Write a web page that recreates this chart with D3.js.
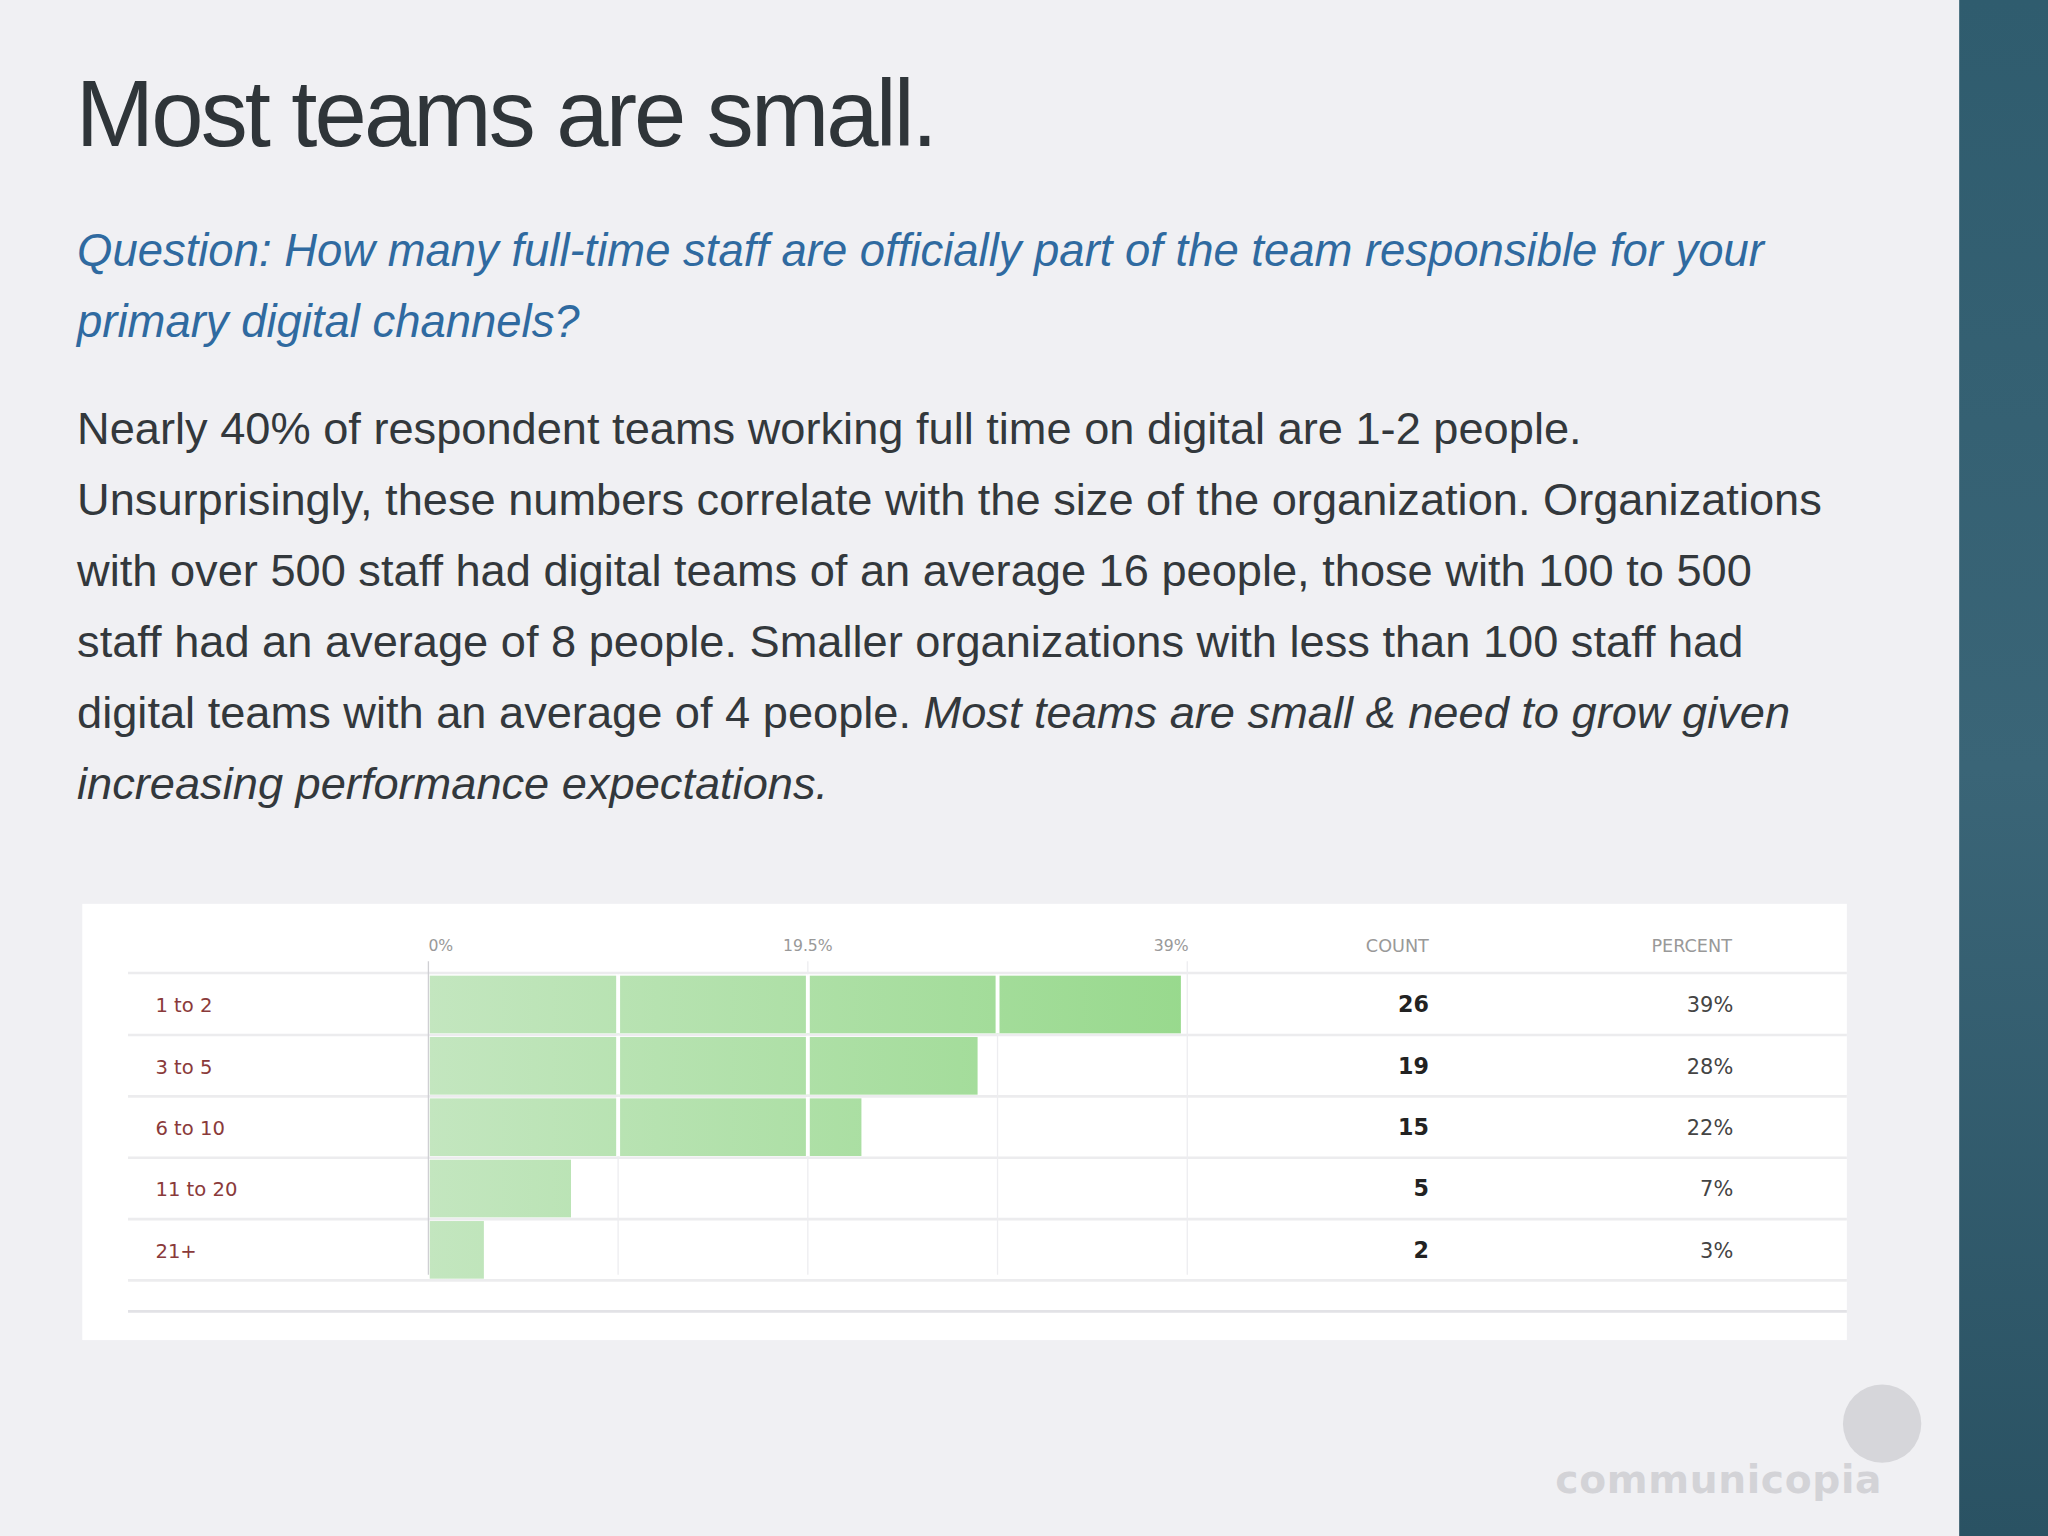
<!DOCTYPE html>
<html><head><meta charset="utf-8">
<script src="https://cdn.jsdelivr.net/npm/d3@7"></script>
<style>body{margin:0;background:#f0f0f3}svg{display:block}</style>
</head><body>
<svg id="c" width="2048" height="1536" viewBox="0 0 1568 1176"></svg>
<script>
const categories = ['1 to 2', '3 to 5', '6 to 10', '11 to 20', '21+']
const counts = [26, 19, 15, 5, 2]
const percents = ['39%', '28%', '22%', '7%', '3%']
const tickValues = [0, 19.5, 39]
const tickLabels = ['0%', '19.5%', '39%']
const total = d3.sum(counts)

const svg = d3.select('#c')
svg.append('rect').attr('width', 1568).attr('height', 1176).attr('fill', '#f0f0f3')

// sidebar
const grad = svg.append('defs').append('linearGradient').attr('id', 'side').attr('x1', 0).attr('x2', 0).attr('y1', 0).attr('y2', 1)
grad.append('stop').attr('offset', 0).attr('stop-color', '#2f5c6e')
grad.append('stop').attr('offset', 0.5).attr('stop-color', '#3a6577')
grad.append('stop').attr('offset', 1).attr('stop-color', '#2a5263')
svg.append('rect').attr('x', 1500).attr('width', 68).attr('height', 1176).attr('fill', 'url(#side)')

svg.append('text').attr('x', 58).attr('y', 112).attr('font-family', 'Liberation Sans, Arial').attr('font-size', 72)
    .attr('letter-spacing', -2.2).attr('fill', '#2f3539').text('Most teams are small.')

const q = svg.append('text').attr('font-family', 'Liberation Sans, Arial').attr('font-size', 34.8).attr('font-style', 'italic').attr('fill', '#2f6aa0')
q.append('tspan').attr('x', 59).attr('y', 204).text('Question: How many full-time staff are officially part of the team responsible for your')
q.append('tspan').attr('x', 59).attr('y', 258).text('primary digital channels?')

const body = [
    ['Nearly 40% of respondent teams working full time on digital are 1-2 people.'],
    ['Unsurprisingly, these numbers correlate with the size of the organization. Organizations'],
    ['with over 500 staff had digital teams of an average 16 people, those with 100 to 500'],
    ['staff had an average of 8 people. Smaller organizations with less than 100 staff had'],
    ['digital teams with an average of 4 people. ', 'Most teams are small & need to grow given'],
    [null, 'increasing performance expectations.']
]
const bt = svg.append('text').attr('font-family', 'Liberation Sans, Arial').attr('font-size', 34.6).attr('fill', '#33383c')
body.forEach((l, i) => {
    const yy = 340 + i * 54.4
    if (l[0] !== null) {
        bt.append('tspan').attr('x', 59).attr('y', yy).text(l[0])
        if (l[1]) bt.append('tspan').attr('font-style', 'italic').text(l[1])
    } else {
        bt.append('tspan').attr('x', 59).attr('y', yy).attr('font-style', 'italic').text(l[1])
    }
})

// chart panel
svg.append('rect').attr('x', 63).attr('y', 692).attr('width', 1351).attr('height', 334).attr('fill', '#fff')

const x = d3.scaleLinear().domain([0, 39]).range([328, 909])
const y = d3.scaleBand().domain(categories).range([746, 978]).paddingInner(0.06).paddingOuter(0)
const font = 'DejaVu Sans, Verdana'

// row separators
categories.forEach(c => {
    svg.append('line').attr('x1', 98).attr('x2', 1414).attr('y1', y(c) + y.step() - 0.5).attr('y2', y(c) + y.step() - 0.5)
        .attr('stroke', '#ececee').attr('stroke-width', 2)
})
svg.append('line').attr('x1', 98).attr('x2', 1414).attr('y1', 745).attr('y2', 745).attr('stroke', '#ececee').attr('stroke-width', 2)
svg.append('line').attr('x1', 98).attr('x2', 1414).attr('y1', 1004).attr('y2', 1004).attr('stroke', '#e2e2e6').attr('stroke-width', 2)

// grid
const gridVals = d3.range(0, 39.01, 9.75)
svg.append('g').selectAll('line').data(gridVals).join('line')
    .attr('x1', d => x(d)).attr('x2', d => x(d)).attr('y1', d => tickValues.includes(d) ? 736 : 746).attr('y2', 976)
    .attr('stroke', (d, i) => i === 0 ? '#cfcfd3' : '#ededf0').attr('stroke-width', 1)

const bg = svg.append('defs').append('linearGradient').attr('id', 'bar').attr('gradientUnits', 'userSpaceOnUse')
    .attr('x1', x(0)).attr('x2', x(39)).attr('y1', 0).attr('y2', 0)
bg.append('stop').attr('offset', 0).attr('stop-color', '#c3e6bf')
bg.append('stop').attr('offset', 1).attr('stop-color', '#98d98d')

svg.append('g').selectAll('rect').data(categories).join('rect')
    .attr('x', x(0) + 1).attr('y', c => y(c) + 1).attr('height', y.bandwidth())
    .attr('width', (c, i) => x(counts[i] / total * 100) - x(0) - 3).attr('fill', 'url(#bar)')

// white separators inside bars
categories.forEach((c, i) => {
    const v = counts[i] / total * 100
    gridVals.filter(g => g > 0 && g < v).forEach(g => {
        svg.append('line').attr('x1', x(g)).attr('x2', x(g)).attr('y1', y(c)).attr('y2', y(c) + y.bandwidth() + 1)
            .attr('stroke', '#fff').attr('stroke-width', 3)
    })
})

// axis labels
svg.append('g').selectAll('text').data(tickValues).join('text')
    .attr('x', d => x(d) + (d === 39 ? 1 : 0)).attr('y', 728).attr('text-anchor', (d, i) => ['start', 'middle', 'end'][i])
    .attr('font-family', font).attr('font-size', 12).attr('fill', '#999').text((d, i) => tickLabels[i])
svg.append('text').attr('x', 1094).attr('y', 729).attr('text-anchor', 'end').attr('font-family', font).attr('font-size', 13.5).attr('fill', '#999').text('COUNT')
svg.append('text').attr('x', 1326).attr('y', 729).attr('text-anchor', 'end').attr('font-family', font).attr('font-size', 13.5).attr('fill', '#999').text('PERCENT')

const mid = c => y(c) + y.bandwidth() / 2 + 7
svg.append('g').selectAll('text').data(categories).join('text')
    .attr('x', 119).attr('y', mid).attr('font-family', font).attr('font-size', 15).attr('fill', '#8a3a3a').text(d => d)
svg.append('g').selectAll('text').data(categories).join('text')
    .attr('x', 1094).attr('y', mid).attr('text-anchor', 'end').attr('font-family', font).attr('font-size', 17).attr('font-weight', 'bold').attr('fill', '#222')
    .text((d, i) => counts[i])
svg.append('g').selectAll('text').data(categories).join('text')
    .attr('x', 1327).attr('y', mid).attr('text-anchor', 'end').attr('font-family', font).attr('font-size', 16).attr('fill', '#444')
    .text((d, i) => percents[i])

// logo
svg.append('circle').attr('cx', 1441).attr('cy', 1090).attr('r', 30).attr('fill', '#d6d6da')
svg.append('text').attr('x', 1441).attr('y', 1143).attr('text-anchor', 'end').attr('font-family', 'DejaVu Sans').attr('font-weight', 'bold')
    .attr('font-size', 30).attr('letter-spacing', 0.5).attr('fill', '#d3d3d7').text('communicopia')
</script>
</body></html>
